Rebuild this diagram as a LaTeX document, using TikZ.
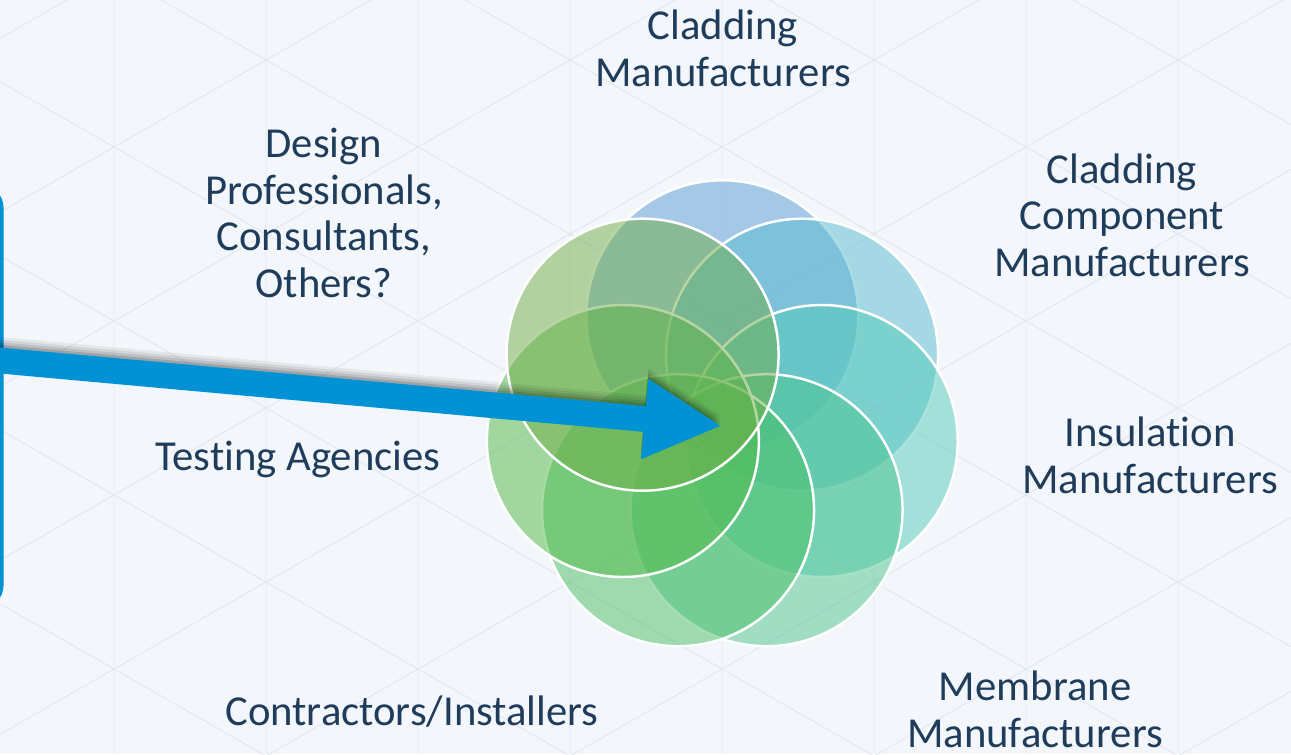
\documentclass[tikz,border=0pt]{standalone}
\usepackage{fontspec}
\setmainfont[Ligatures=CommonOff]{Carlito}
\usetikzlibrary{arrows.meta,calc}

\definecolor{bgblue}{HTML}{F3F6FA}
\definecolor{latticegray}{HTML}{E4E8EE}
\definecolor{labelblue}{HTML}{1F3D5B}
\definecolor{arrowblue}{HTML}{0092D5}
\definecolor{petal0}{HTML}{5B9BD5}
\definecolor{petal1}{HTML}{58BCD0}
\definecolor{petal2}{HTML}{53CBB9}
\definecolor{petal3}{HTML}{4EC58E}
\definecolor{petal4}{HTML}{4ABF64}
\definecolor{petal5}{HTML}{50B946}
\definecolor{petal6}{HTML}{70AD47}

\tikzset{
    lattice/.style={draw=latticegray, line width=0.6pt},
    vlattice/.style={draw=latticegray!35!bgblue, line width=0.6pt},
    petal/.style={draw=white, line width=1.4pt, fill opacity=0.5},
    actor/.style={text=labelblue, align=center, inner sep=0pt, anchor=base,
        font=\fontsize{24.3}{26.4}\selectfont},
    arrowline/.style={draw=arrowblue, line width=14.7pt,
        -{Triangle[length=44.2pt, width=42.5pt]}},
    boxedge/.style={draw=arrowblue, line width=2.1pt, rounded corners=14pt}
}

\begin{document}
\begin{tikzpicture}[x=0.02cm, y=-0.02cm]
        \useasboundingbox (0,0) rectangle (1291,754);
        \clip (0,0) rectangle (1291,754);
        \fill[bgblue] (0,0) rectangle (1291,754);

        \foreach \i in {0,...,7} {
            \draw[vlattice] (114+152*\i,0) -- ++(0,754);
        }
        \foreach \c in {-1,...,7} {
            \draw[lattice] (0,{212.3+174*\c}) -- (1291,{212.3+174*\c-739});
        }
        \foreach \c in {-4,...,3} {
            \draw[lattice] (0,{81.7+174*\c}) -- (1291,{81.7+174*\c+739});
        }

        \draw[boxedge] (-300,184) rectangle (1.8,609);

        \coordinate (hub) at (722.3,418.3);
        \foreach \k in {0,...,6} {
            \filldraw[petal, fill=petal\k] ($(hub)+({-90+51.43*\k}:102)$) circle (136);
        }

        \coordinate (tail) at (-30,357.8);
        \coordinate (tip) at (722,426);
        \foreach \d/\o in {1.5/0.14, 3/0.1, 4.5/0.08, 6/0.06} {
            \draw[arrowline, draw=black, opacity=\o, transform canvas={yshift=\d pt}] (tail) -- (tip);
        }
        \draw[arrowline] (tail) -- (tip);

        \node[actor] (cladding) at (723,86) {Cladding\\Manufacturers};
        \node[actor] (design) at (324,297) {Design\\Professionals,\\Consultants,\\Others?};
        \node[actor] (component) at (1122,276) {Cladding\\Component\\Manufacturers};
        \node[actor] (insulation) at (1150,493) {Insulation\\Manufacturers};
        \node[actor] (testing) at (298,470) {Testing Agencies};
        \node[actor] (contractors) at (412,725) {Contractors/Installers};
        \node[actor] (membrane) at (1035,747) {Membrane\\Manufacturers};
    \end{tikzpicture}
\end{document}
